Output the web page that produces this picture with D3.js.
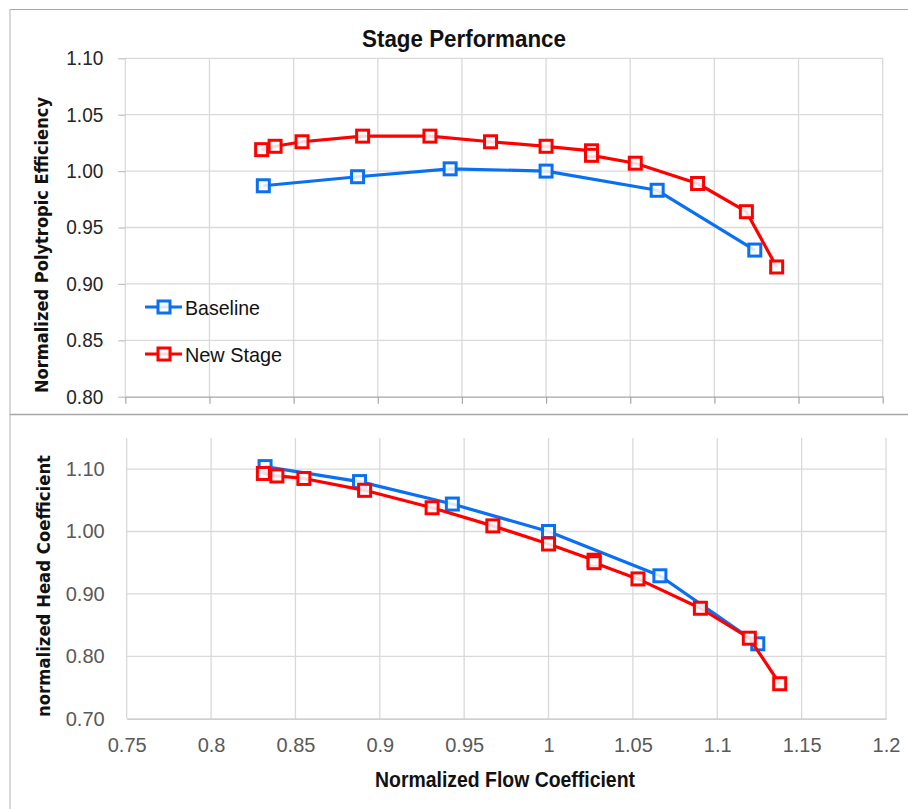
<!DOCTYPE html>
<html>
<head>
<meta charset="utf-8">
<script src="https://cdn.jsdelivr.net/npm/d3@7/dist/d3.min.js"></script>
<style>
  html, body { margin: 0; padding: 0; background: #fff; }
  svg { display: block; }
  .narrow { font-family: "Liberation Sans Narrow", "Arial Narrow", "Liberation Sans", sans-serif; font-stretch: condensed; }
</style>
</head>
<body>
<script>
// ---------- data ----------
const xTickValues = [0.75, 0.8, 0.85, 0.9, 0.95, 1.0, 1.05, 1.1, 1.15, 1.2];
const xTickLabels = ["0.75", "0.8", "0.85", "0.9", "0.95", "1", "1.05", "1.1", "1.15", "1.2"];
const effTickValues = [0.80, 0.85, 0.90, 0.95, 1.00, 1.05, 1.10];
const effTickLabels = ["0.80", "0.85", "0.90", "0.95", "1.00", "1.05", "1.10"];
const headTickValues = [0.70, 0.80, 0.90, 1.00, 1.10];
const headTickLabels = ["0.70", "0.80", "0.90", "1.00", "1.10"];

const seriesNames = ["Baseline", "New Stage"];

const baselineFlow = [0.832, 0.888, 0.943, 1.000, 1.066, 1.124];
const baselineEff  = [0.987, 0.995, 1.002, 1.000, 0.983, 0.930];
const baselineHead = [1.104, 1.080, 1.044, 1.000, 0.929, 0.820];

const newFlow = [0.831, 0.839, 0.855, 0.891, 0.931, 0.967, 1.000, 1.027, 1.027, 1.053, 1.090, 1.119, 1.137];
const newEff  = [1.019, 1.022, 1.026, 1.031, 1.031, 1.026, 1.022, 1.018, 1.014, 1.007, 0.989, 0.964, 0.915];
const newHead = [1.093, 1.089, 1.085, 1.066, 1.038, 1.009, 0.980, 0.954, 0.950, 0.924, 0.877, 0.829, 0.756];

const titleText = "Stage Performance";
const effAxisTitle = "Normalized Polytropic Efficiency";
const headAxisTitle = "normalized Head Coefficient";
const flowAxisTitle = "Normalized Flow Coefficient";

// ---------- styles ----------
const W = 908, H = 809;
const BLUE = "#0a70f2", RED = "#ff0000";
const GRID = "#d9d9d9";
const MS = 12, MSW = 3;

const svg = d3.select("body").append("svg").attr("width", W).attr("height", H);
svg.append("rect").attr("width", W).attr("height", H).attr("fill", "#fff");

// outer borders
svg.append("line").attr("x1", 10).attr("x2", W).attr("y1", 9.5).attr("y2", 9.5).attr("stroke", "#a6a6a6").attr("stroke-width", 1.2);
svg.append("line").attr("x1", 10).attr("x2", 10).attr("y1", 9).attr("y2", H).attr("stroke", "#bfbfbf").attr("stroke-width", 1.2);
svg.append("line").attr("x1", 10).attr("x2", W).attr("y1", 414.5).attr("y2", 414.5).attr("stroke", "#a6a6a6").attr("stroke-width", 1.5);

// ---------- scales ----------
const xTop = d3.scaleLinear().domain([0.75, 1.2]).range([125.3, 882.7]);
const yTop = d3.scaleLinear().domain([0.80, 1.10]).range([396.7, 58.3]);
const xBot = d3.scaleLinear().domain([0.75, 1.2]).range([126.7, 886]);
const yBot = d3.scaleLinear().domain([0.70, 1.15]).range([718.7, 437.9]);

function drawSeries(g, x, y, xs, ys, color) {
  const pts = xs.map((v, i) => [v, ys[i]]);
  const line = d3.line().x(d => x(d[0])).y(d => y(d[1]));
  g.append("path").datum(pts).attr("d", line)
    .attr("fill", "none").attr("stroke", color).attr("stroke-width", 3.2).attr("stroke-linejoin", "round");
  g.selectAll(null).data(pts).enter().append("rect")
    .attr("x", d => x(d[0]) - MS / 2).attr("y", d => y(d[1]) - MS / 2)
    .attr("width", MS).attr("height", MS)
    .attr("fill", "#fff").attr("fill-opacity", 0.85)
    .attr("stroke", color).attr("stroke-width", MSW);
}

// ---------- top chart ----------
const gTop = svg.append("g");
gTop.append("g").selectAll("line").data(xTickValues).enter().append("line")
  .attr("x1", d => xTop(d)).attr("x2", d => xTop(d)).attr("y1", yTop(1.10)).attr("y2", yTop(0.80))
  .attr("stroke", GRID).attr("stroke-width", 1.3);
gTop.append("g").selectAll("line").data(effTickValues.filter(v => v > 0.8)).enter().append("line")
  .attr("x1", xTop(0.75)).attr("x2", xTop(1.2)).attr("y1", d => yTop(d)).attr("y2", d => yTop(d))
  .attr("stroke", GRID).attr("stroke-width", 1.3);

const yAxisTop = d3.axisLeft(yTop).tickValues(effTickValues)
  .tickFormat((d, i) => effTickLabels[i]).tickSize(7).tickPadding(15);
const yat = gTop.append("g").attr("transform", `translate(${xTop(0.75)},0)`).call(yAxisTop);
yat.select(".domain").remove();
yat.selectAll(".tick line").attr("stroke", "#bfbfbf").attr("stroke-width", 1.2);
yat.selectAll(".tick text").attr("class", "narrow").attr("font-size", 20).attr("fill", "#262626")
  .attr("textLength", 37).attr("lengthAdjust", "spacingAndGlyphs");

const xAxisTop = d3.axisBottom(xTop).tickValues(xTickValues).tickFormat("").tickSizeInner(7).tickSizeOuter(0);
const xat = gTop.append("g").attr("transform", `translate(0,${yTop(0.80)})`).call(xAxisTop);
xat.select(".domain").attr("stroke", "#a6a6a6").attr("stroke-width", 1.3);
xat.selectAll(".tick line").attr("stroke", "#a6a6a6").attr("stroke-width", 1.2);

drawSeries(gTop, xTop, yTop, baselineFlow, baselineEff, BLUE);
drawSeries(gTop, xTop, yTop, newFlow, newEff, RED);

svg.append("text").attr("class", "narrow").attr("x", 464).attr("y", 47)
  .attr("text-anchor", "middle").attr("font-size", 23).attr("font-weight", "bold").attr("fill", "#111")
  .attr("textLength", 204).attr("lengthAdjust", "spacingAndGlyphs").text(titleText);

svg.append("text").attr("transform", "translate(48,245) rotate(-90)")
  .attr("text-anchor", "middle").attr("font-family", "DejaVu Sans, Verdana, sans-serif")
  .attr("font-size", 18).attr("font-weight", "bold").attr("fill", "#111")
  .attr("textLength", 296).attr("lengthAdjust", "spacingAndGlyphs").text(effAxisTitle);

// legend
const legend = svg.append("g");
const legendData = [
  { name: seriesNames[0], color: BLUE, y: 307, w: 75 },
  { name: seriesNames[1], color: RED, y: 354, w: 97 }
];
legendData.forEach(d => {
  legend.append("line").attr("x1", 145).attr("x2", 182).attr("y1", d.y).attr("y2", d.y)
    .attr("stroke", d.color).attr("stroke-width", 3.2);
  legend.append("rect").attr("x", 164 - MS / 2).attr("y", d.y - MS / 2).attr("width", MS).attr("height", MS)
    .attr("fill", "#fff").attr("fill-opacity", 0.85).attr("stroke", d.color).attr("stroke-width", MSW);
  legend.append("text").attr("class", "narrow").attr("x", 185).attr("y", d.y + 7.5)
    .attr("font-size", 21).attr("fill", "#111")
    .attr("textLength", d.w).attr("lengthAdjust", "spacingAndGlyphs").text(d.name);
});

// ---------- bottom chart ----------
const gBot = svg.append("g");
gBot.append("g").selectAll("line").data(xTickValues).enter().append("line")
  .attr("x1", d => xBot(d)).attr("x2", d => xBot(d)).attr("y1", yBot(1.15)).attr("y2", yBot(0.70))
  .attr("stroke", GRID).attr("stroke-width", 1.3);
gBot.append("g").selectAll("line").data(headTickValues.filter(v => v > 0.7)).enter().append("line")
  .attr("x1", xBot(0.75)).attr("x2", xBot(1.2)).attr("y1", d => yBot(d)).attr("y2", d => yBot(d))
  .attr("stroke", GRID).attr("stroke-width", 1.3);

const yAxisBot = d3.axisLeft(yBot).tickValues(headTickValues)
  .tickFormat((d, i) => headTickLabels[i]).tickSize(0).tickPadding(22);
const yab = gBot.append("g").attr("transform", `translate(${xBot(0.75)},0)`).call(yAxisBot);
yab.select(".domain").remove();
yab.selectAll(".tick text").attr("class", "narrow").attr("font-size", 20).attr("fill", "#595959")
  .attr("textLength", 39).attr("lengthAdjust", "spacingAndGlyphs");

const xAxisBot = d3.axisBottom(xBot).tickValues(xTickValues)
  .tickFormat((d, i) => xTickLabels[i]).tickSize(0).tickPadding(19);
const xab = gBot.append("g").attr("transform", `translate(0,${yBot(0.70)})`).call(xAxisBot);
xab.select(".domain").attr("stroke", "#bfbfbf").attr("stroke-width", 1.3);
xab.selectAll(".tick text").attr("class", "narrow").attr("font-size", 20).attr("fill", "#595959");

drawSeries(gBot, xBot, yBot, baselineFlow, baselineHead, BLUE);
drawSeries(gBot, xBot, yBot, newFlow, newHead, RED);

svg.append("text").attr("transform", "translate(50,586) rotate(-90)")
  .attr("text-anchor", "middle").attr("font-family", "DejaVu Sans, Verdana, sans-serif")
  .attr("font-size", 18).attr("font-weight", "bold").attr("fill", "#111")
  .attr("textLength", 262).attr("lengthAdjust", "spacingAndGlyphs").text(headAxisTitle);

svg.append("text").attr("class", "narrow").attr("x", 505).attr("y", 787)
  .attr("text-anchor", "middle").attr("font-size", 22).attr("font-weight", "bold").attr("fill", "#111")
  .attr("textLength", 260).attr("lengthAdjust", "spacingAndGlyphs").text(flowAxisTitle);
</script>
</body>
</html>
